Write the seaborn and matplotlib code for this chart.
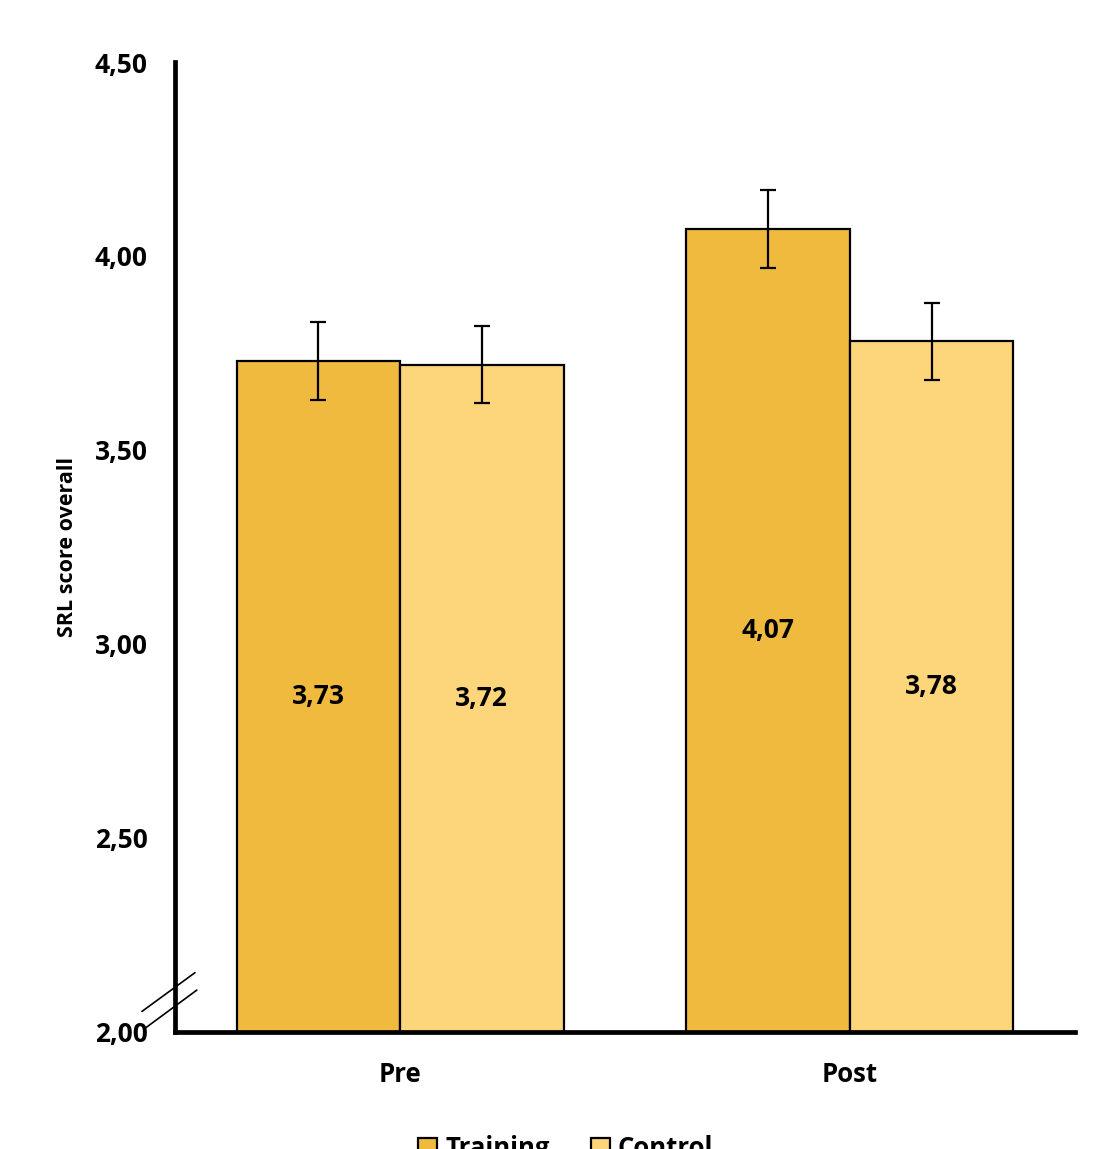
import numpy as np
import pandas as pd
import matplotlib
matplotlib.use("Agg")
import matplotlib.pyplot as plt
import seaborn as sns
from matplotlib.patches import Patch

sns.set_theme(style="white")
plt.rcParams['font.family'] = ['Open Sans', 'DejaVu Sans']
plt.rcParams['text.color'] = 'black'
plt.rcParams['xtick.color'] = 'black'
plt.rcParams['ytick.color'] = 'black'
plt.rcParams['axes.labelcolor'] = 'black'

phases = ["Pre", "Post"]
groups = ["Training", "Control"]
training = [3.73, 4.07]
control = [3.72, 3.78]
training_err = [0.10, 0.10]
control_err = [0.10, 0.10]
yticks = [2.00, 2.50, 3.00, 3.50, 4.00, 4.50]
colors = {"Training": "#F0BA3E", "Control": "#FDD57B"}

df = pd.DataFrame({
    "phase": phases * 2,
    "group": ["Training"] * 2 + ["Control"] * 2,
    "score": training + control,
    "err": training_err + control_err,
})

fig = plt.figure(figsize=(11.09, 11.49), dpi=100)
ax = fig.add_axes([0.158, 0.102, 0.811, 0.844])

sns.barplot(data=df, x="phase", y="score", hue="group", order=phases,
            hue_order=groups, palette=colors, width=0.727, gap=0,
            errorbar=None, edgecolor="black", linewidth=1.6, saturation=1,
            legend=False, ax=ax)

# error bars and value labels from the drawn bars
for bar in ax.patches:
    h = bar.get_height()
    xc = bar.get_x() + bar.get_width() / 2
    row = df[np.isclose(df.score, h)].iloc[0]
    ax.errorbar(xc, h, yerr=row.err, color="black", lw=1.6, capsize=6,
                capthick=1.6, zorder=5)
    ax.text(xc, (2 + h) / 2, f"{h:.2f}".replace(".", ","), ha="center",
            va="center", fontsize=19, fontweight="bold", color="black")

ax.set_ylim(2.0, 4.5)
ax.set_xlim(-0.5, 1.5)
ax.set_yticks(yticks)
ax.set_yticklabels([f"{v:.2f}".replace(".", ",") for v in yticks],
                   fontsize=19, fontweight="bold")
ax.set_xticklabels(phases, fontsize=18.5, fontweight="bold")
ax.tick_params(axis="y", length=0, pad=20)
ax.tick_params(axis="x", length=0, pad=21)
ax.set_xlabel("")
ax.set_ylabel("SRL score overall", fontsize=15.5, fontweight="bold", labelpad=12)

for s in ["top", "right"]:
    ax.spines[s].set_visible(False)
for s in ["left", "bottom"]:
    ax.spines[s].set_linewidth(3.4)
    ax.spines[s].set_color("black")

# axis break marks
ax.plot([-0.037, 0.022], [0.021, 0.061], color="black", lw=1.2,
        transform=ax.transAxes, clip_on=False)
ax.plot([-0.033, 0.024], [0.004, 0.043], color="black", lw=1.2,
        transform=ax.transAxes, clip_on=False)

handles = [Patch(facecolor=colors[g], edgecolor="black", linewidth=1.6, label=g)
           for g in groups]
fig.legend(handles=handles, loc="center", bbox_to_anchor=(0.51, 0.0),
           ncol=2, frameon=False, handlelength=0.75,
           handleheight=0.75, handletextpad=0.3, columnspacing=1.6,
           prop={"weight": "bold", "size": 18.5})

fig.savefig("out.png", dpi=100)
